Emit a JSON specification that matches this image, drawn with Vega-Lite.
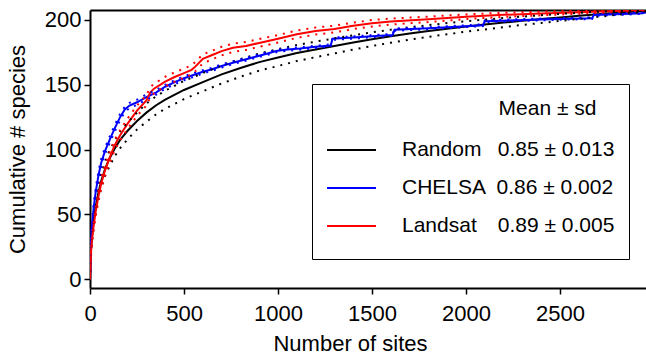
{
  "$schema": "https://vega.github.io/schema/vega-lite/v6.json",
  "width": 556,
  "height": 278,
  "autosize": {"type": "none"},
  "padding": {"left": 90, "top": 10, "right": 0, "bottom": 69},
  "background": "white",
  "config": {
    "font": "Liberation Sans",
    "view": {"stroke": null},
    "axis": {
      "domainColor": "black", "domainWidth": 2, "tickColor": "black", "tickWidth": 1.5, "tickSize": 6,
      "labelColor": "black", "labelFontSize": 22, "titleColor": "black", "titleFontSize": 22,
      "titleFontWeight": "normal", "grid": false, "labelFont": "Liberation Sans", "titleFont": "Liberation Sans"
    }
  },
  "data": {
    "values": [
      {"s": "Random", "x": 0, "m": 0, "lo": 0, "hi": 0},
      {"s": "Random", "x": 5, "m": 22, "lo": 19, "hi": 25},
      {"s": "Random", "x": 10, "m": 32, "lo": 28, "hi": 36},
      {"s": "Random", "x": 20, "m": 46, "lo": 41.5, "hi": 50.5},
      {"s": "Random", "x": 30, "m": 56, "lo": 51, "hi": 61},
      {"s": "Random", "x": 45, "m": 67, "lo": 62, "hi": 72},
      {"s": "Random", "x": 60, "m": 76, "lo": 70.5, "hi": 81.5},
      {"s": "Random", "x": 80, "m": 85, "lo": 79.5, "hi": 90.5},
      {"s": "Random", "x": 100, "m": 92, "lo": 86, "hi": 98},
      {"s": "Random", "x": 130, "m": 100.5, "lo": 94.5, "hi": 106.5},
      {"s": "Random", "x": 160, "m": 107.5, "lo": 101, "hi": 114},
      {"s": "Random", "x": 200, "m": 114.5, "lo": 108, "hi": 121},
      {"s": "Random", "x": 250, "m": 122, "lo": 115.5, "hi": 128.5},
      {"s": "Random", "x": 300, "m": 128.5, "lo": 121.5, "hi": 135.5},
      {"s": "Random", "x": 350, "m": 134, "lo": 127, "hi": 141},
      {"s": "Random", "x": 400, "m": 138.5, "lo": 131.5, "hi": 145.5},
      {"s": "Random", "x": 500, "m": 146, "lo": 139, "hi": 153},
      {"s": "Random", "x": 600, "m": 152, "lo": 145, "hi": 159},
      {"s": "Random", "x": 700, "m": 158, "lo": 151, "hi": 165},
      {"s": "Random", "x": 800, "m": 163, "lo": 156.2, "hi": 169.8},
      {"s": "Random", "x": 900, "m": 167.5, "lo": 160.9, "hi": 174.1},
      {"s": "Random", "x": 1000, "m": 171, "lo": 164.5, "hi": 177.5},
      {"s": "Random", "x": 1100, "m": 174.5, "lo": 168.3, "hi": 180.7},
      {"s": "Random", "x": 1200, "m": 177.3, "lo": 171.3, "hi": 183.3},
      {"s": "Random", "x": 1300, "m": 180, "lo": 174.2, "hi": 185.8},
      {"s": "Random", "x": 1400, "m": 182.7, "lo": 177.2, "hi": 188.2},
      {"s": "Random", "x": 1500, "m": 185.2, "lo": 179.9, "hi": 190.5},
      {"s": "Random", "x": 1600, "m": 187.5, "lo": 182.5, "hi": 192.5},
      {"s": "Random", "x": 1700, "m": 189.6, "lo": 184.8, "hi": 194.4},
      {"s": "Random", "x": 1800, "m": 191.5, "lo": 187, "hi": 196},
      {"s": "Random", "x": 1900, "m": 193.3, "lo": 189, "hi": 197.6},
      {"s": "Random", "x": 2000, "m": 195, "lo": 191, "hi": 199},
      {"s": "Random", "x": 2100, "m": 196.5, "lo": 192.7, "hi": 200.3},
      {"s": "Random", "x": 2200, "m": 198, "lo": 194.5, "hi": 201.5},
      {"s": "Random", "x": 2300, "m": 199.4, "lo": 196.2, "hi": 202.6},
      {"s": "Random", "x": 2400, "m": 200.7, "lo": 197.7, "hi": 203.7},
      {"s": "Random", "x": 2500, "m": 202, "lo": 199.3, "hi": 204.7},
      {"s": "Random", "x": 2600, "m": 203.2, "lo": 200.9, "hi": 205.5},
      {"s": "Random", "x": 2700, "m": 204.4, "lo": 202.4, "hi": 206.4},
      {"s": "Random", "x": 2800, "m": 205.5, "lo": 204, "hi": 207},
      {"s": "Random", "x": 2957, "m": 207, "lo": 206.5, "hi": 207.5},

      {"s": "CHELSA", "x": 0, "m": 0, "lo": 0, "hi": 0},
      {"s": "CHELSA", "x": 5, "m": 28, "lo": 25, "hi": 31},
      {"s": "CHELSA", "x": 10, "m": 40, "lo": 37, "hi": 43},
      {"s": "CHELSA", "x": 20, "m": 56, "lo": 53, "hi": 59},
      {"s": "CHELSA", "x": 30, "m": 67, "lo": 64, "hi": 70},
      {"s": "CHELSA", "x": 45, "m": 80, "lo": 77, "hi": 83},
      {"s": "CHELSA", "x": 60, "m": 90, "lo": 87, "hi": 93},
      {"s": "CHELSA", "x": 80, "m": 99, "lo": 96.5, "hi": 101.5},
      {"s": "CHELSA", "x": 100, "m": 106, "lo": 103.5, "hi": 108.5},
      {"s": "CHELSA", "x": 130, "m": 116, "lo": 113.5, "hi": 118.5},
      {"s": "CHELSA", "x": 160, "m": 125, "lo": 122.5, "hi": 127.5},
      {"s": "CHELSA", "x": 185, "m": 131, "lo": 129, "hi": 133},
      {"s": "CHELSA", "x": 210, "m": 134, "lo": 132, "hi": 136},
      {"s": "CHELSA", "x": 250, "m": 136.5, "lo": 134.5, "hi": 138.5},
      {"s": "CHELSA", "x": 300, "m": 140.5, "lo": 138.5, "hi": 142.5},
      {"s": "CHELSA", "x": 350, "m": 144, "lo": 142.2, "hi": 145.8},
      {"s": "CHELSA", "x": 400, "m": 148.5, "lo": 147, "hi": 150},
      {"s": "CHELSA", "x": 450, "m": 152, "lo": 150.5, "hi": 153.5},
      {"s": "CHELSA", "x": 500, "m": 155, "lo": 153.5, "hi": 156.5},
      {"s": "CHELSA", "x": 550, "m": 157.5, "lo": 156, "hi": 159},
      {"s": "CHELSA", "x": 600, "m": 160, "lo": 158.8, "hi": 161.2},
      {"s": "CHELSA", "x": 650, "m": 162, "lo": 160.8, "hi": 163.2},
      {"s": "CHELSA", "x": 700, "m": 164.5, "lo": 163.3, "hi": 165.7},
      {"s": "CHELSA", "x": 760, "m": 167, "lo": 166, "hi": 168},
      {"s": "CHELSA", "x": 850, "m": 170.5, "lo": 169.5, "hi": 171.5},
      {"s": "CHELSA", "x": 940, "m": 174, "lo": 173, "hi": 175},
      {"s": "CHELSA", "x": 990, "m": 176, "lo": 175, "hi": 177},
      {"s": "CHELSA", "x": 1050, "m": 177.2, "lo": 176.3, "hi": 178.1},
      {"s": "CHELSA", "x": 1117, "m": 178, "lo": 177.1, "hi": 178.9},
      {"s": "CHELSA", "x": 1200, "m": 179.3, "lo": 178.4, "hi": 180.2},
      {"s": "CHELSA", "x": 1280, "m": 180.3, "lo": 179.4, "hi": 181.2},
      {"s": "CHELSA", "x": 1290, "m": 185.5, "lo": 184.6, "hi": 186.4},
      {"s": "CHELSA", "x": 1400, "m": 186.5, "lo": 185.6, "hi": 187.4},
      {"s": "CHELSA", "x": 1500, "m": 187.5, "lo": 186.7, "hi": 188.3},
      {"s": "CHELSA", "x": 1610, "m": 188.5, "lo": 187.7, "hi": 189.3},
      {"s": "CHELSA", "x": 1620, "m": 192.5, "lo": 191.7, "hi": 193.3},
      {"s": "CHELSA", "x": 1800, "m": 193.6, "lo": 192.8, "hi": 194.4},
      {"s": "CHELSA", "x": 2000, "m": 195.2, "lo": 194.5, "hi": 195.9},
      {"s": "CHELSA", "x": 2090, "m": 196, "lo": 195.3, "hi": 196.7},
      {"s": "CHELSA", "x": 2100, "m": 199, "lo": 198.3, "hi": 199.7},
      {"s": "CHELSA", "x": 2300, "m": 200, "lo": 199.3, "hi": 200.7},
      {"s": "CHELSA", "x": 2500, "m": 200.8, "lo": 200.2, "hi": 201.4},
      {"s": "CHELSA", "x": 2670, "m": 201.3, "lo": 200.7, "hi": 201.9},
      {"s": "CHELSA", "x": 2680, "m": 203.8, "lo": 203.2, "hi": 204.4},
      {"s": "CHELSA", "x": 2800, "m": 204.5, "lo": 203.9, "hi": 205.1},
      {"s": "CHELSA", "x": 2940, "m": 205.2, "lo": 204.7, "hi": 205.7},
      {"s": "CHELSA", "x": 2957, "m": 206, "lo": 205.5, "hi": 206.5},

      {"s": "Landsat", "x": 0, "m": 0, "lo": 0, "hi": 0},
      {"s": "Landsat", "x": 5, "m": 20, "lo": 17, "hi": 23},
      {"s": "Landsat", "x": 10, "m": 30, "lo": 27, "hi": 33},
      {"s": "Landsat", "x": 20, "m": 42, "lo": 38.5, "hi": 45.5},
      {"s": "Landsat", "x": 30, "m": 52, "lo": 48.5, "hi": 55.5},
      {"s": "Landsat", "x": 45, "m": 64, "lo": 60, "hi": 68},
      {"s": "Landsat", "x": 60, "m": 74, "lo": 70, "hi": 78},
      {"s": "Landsat", "x": 80, "m": 84, "lo": 80, "hi": 88},
      {"s": "Landsat", "x": 100, "m": 92, "lo": 88, "hi": 96},
      {"s": "Landsat", "x": 130, "m": 103, "lo": 99, "hi": 107},
      {"s": "Landsat", "x": 160, "m": 111, "lo": 107, "hi": 115},
      {"s": "Landsat", "x": 200, "m": 120, "lo": 116, "hi": 124},
      {"s": "Landsat", "x": 250, "m": 130, "lo": 126, "hi": 134},
      {"s": "Landsat", "x": 300, "m": 138, "lo": 134, "hi": 142},
      {"s": "Landsat", "x": 320, "m": 144, "lo": 140, "hi": 148},
      {"s": "Landsat", "x": 340, "m": 147, "lo": 143.2, "hi": 150.8},
      {"s": "Landsat", "x": 400, "m": 152.5, "lo": 148.8, "hi": 156.2},
      {"s": "Landsat", "x": 450, "m": 156, "lo": 152.4, "hi": 159.6},
      {"s": "Landsat", "x": 500, "m": 159, "lo": 155.5, "hi": 162.5},
      {"s": "Landsat", "x": 540, "m": 161.5, "lo": 158, "hi": 165},
      {"s": "Landsat", "x": 560, "m": 164, "lo": 160.5, "hi": 167.5},
      {"s": "Landsat", "x": 600, "m": 170, "lo": 166.5, "hi": 173.5},
      {"s": "Landsat", "x": 650, "m": 173, "lo": 169.7, "hi": 176.3},
      {"s": "Landsat", "x": 700, "m": 176, "lo": 172.7, "hi": 179.3},
      {"s": "Landsat", "x": 760, "m": 178.5, "lo": 175.3, "hi": 181.7},
      {"s": "Landsat", "x": 830, "m": 180, "lo": 176.9, "hi": 183.1},
      {"s": "Landsat", "x": 900, "m": 182.3, "lo": 179.3, "hi": 185.3},
      {"s": "Landsat", "x": 1000, "m": 185.5, "lo": 182.6, "hi": 188.4},
      {"s": "Landsat", "x": 1100, "m": 189, "lo": 186.2, "hi": 191.8},
      {"s": "Landsat", "x": 1200, "m": 191.5, "lo": 188.8, "hi": 194.2},
      {"s": "Landsat", "x": 1300, "m": 193, "lo": 190.4, "hi": 195.6},
      {"s": "Landsat", "x": 1400, "m": 195.5, "lo": 193, "hi": 198},
      {"s": "Landsat", "x": 1500, "m": 197.5, "lo": 195, "hi": 200},
      {"s": "Landsat", "x": 1600, "m": 198.8, "lo": 196.5, "hi": 201.1},
      {"s": "Landsat", "x": 1800, "m": 200.5, "lo": 198.4, "hi": 202.6},
      {"s": "Landsat", "x": 2000, "m": 202.5, "lo": 200.7, "hi": 204.3},
      {"s": "Landsat", "x": 2200, "m": 204, "lo": 202.4, "hi": 205.6},
      {"s": "Landsat", "x": 2400, "m": 205, "lo": 203.6, "hi": 206.4},
      {"s": "Landsat", "x": 2600, "m": 206, "lo": 204.8, "hi": 207.2},
      {"s": "Landsat", "x": 2800, "m": 207, "lo": 206.1, "hi": 207.9},
      {"s": "Landsat", "x": 2957, "m": 207.8, "lo": 207.4, "hi": 208.2}
    ]
  },
  "layer": [
    {
      "mark": {"type": "line", "strokeWidth": 2, "clip": true},
      "encoding": {
        "x": {
          "field": "x", "type": "quantitative",
          "scale": {"domain": [0, 2957], "nice": false, "zero": false},
          "axis": {"title": "Number of sites", "format": "d", "values": [0, 500, 1000, 1500, 2000, 2500], "labelPadding": 9, "titlePadding": 9, "titleX": 260, "titleFontSize": 22, "labelFlush": false, "labelOverlap": false}
        },
        "y": {
          "field": "m", "type": "quantitative",
          "scale": {"domain": [-6.8, 207.7], "nice": false, "zero": false},
          "axis": {"title": "Cumulative # species", "values": [0, 50, 100, 150, 200], "labelPadding": 3, "titlePadding": 15, "labelFlush": false}
        },
        "color": {
          "field": "s", "type": "nominal",
          "scale": {"domain": ["Random", "CHELSA", "Landsat"], "range": ["#000000", "#0000ff", "#ff0000"]},
          "legend": {
            "title": "Mean ± sd\u00a0\u00a0\u00a0\u200b",
            "orient": "none", "legendX": 222, "legendY": 74,
            "labelExpr": "datum.label == 'Random' ? 'Random\u2002\u00a00.85 ± 0.013' : datum.label == 'CHELSA' ? 'CHELSA\u20020.86 ± 0.002' : 'Landsat\u2002\u20020.89 ± 0.005'",
            "symbolType": "stroke", "symbolSize": 2401, "symbolStrokeWidth": 2,
            "clipHeight": 38, "rowPadding": 0, "labelOffset": 25,
            "labelFontSize": 21, "titleFontSize": 21, "titleFontWeight": "normal",
            "titleAnchor": "end", "titlePadding": 12, "padding": 14,
            "strokeColor": "black", "fillColor": "white",
            "labelLimit": 400, "titleLimit": 400, "labelColor": "black", "titleColor": "black",
            "labelFont": "Liberation Sans", "titleFont": "Liberation Sans"
          }
        }
      }
    },
    {
      "transform": [{"fold": ["lo", "hi"], "as": ["b", "v"]}],
      "mark": {"type": "line", "strokeWidth": 2, "strokeDash": [2, 6], "clip": true},
      "encoding": {
        "x": {
          "field": "x", "type": "quantitative",
          "axis": {"orient": "top", "labels": false, "ticks": false, "title": null, "domainWidth": 2, "domainColor": "black"}
        },
        "y": {
          "field": "v", "type": "quantitative",
          "axis": {"title": "Cumulative # species", "values": [0, 50, 100, 150, 200], "labelPadding": 3, "titlePadding": 15, "labelFlush": false}
        },
        "color": {"field": "s", "type": "nominal"},
        "detail": {"field": "b"}
      }
    }
  ],
  "resolve": {"axis": {"x": "independent"}}
}
